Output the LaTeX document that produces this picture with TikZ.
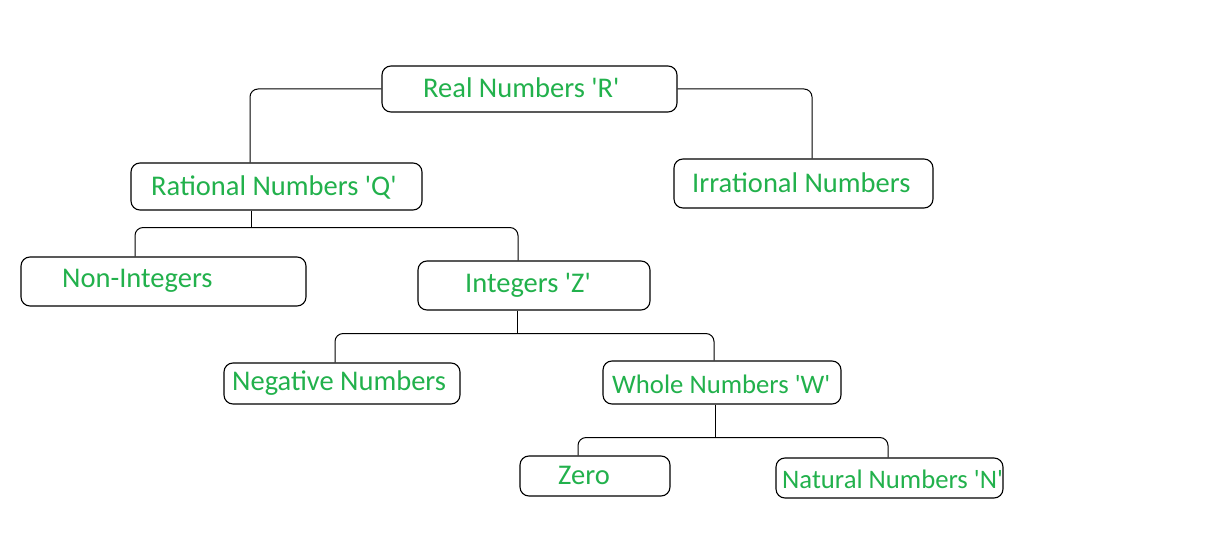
\documentclass[tikz,border=0pt]{standalone}
\usepackage{fontspec}
\setmainfont{Carlito}
\definecolor{pgreen}{RGB}{34,177,76}
\newcommand{\sq}{\textquotesingle}
\begin{document}
\begin{tikzpicture}[x=1pt,y=-1pt,
  box/.style={draw=black, line width=1.1pt, rounded corners=9pt, inner sep=0pt},
  txt/.style={text=pgreen, anchor=west, inner sep=0pt, font=\fontsize{28.5}{32}\selectfont},
  smalltxt/.style={txt, font=\fontsize{26.7}{30}\selectfont},
  conn/.style={draw=black, line width=1pt, rounded corners=8pt}]
\useasboundingbox[fill=white] (0,0) rectangle (1210,553);
% boxes
\node[box, minimum width=295pt, minimum height=46pt] (r) at (529.5,89) {};
\node[box, minimum width=291pt, minimum height=47pt] (q) at (276.5,186.5) {};
\node[box, minimum width=259pt, minimum height=49pt] (i) at (803.5,183.5) {};
\node[box, minimum width=285pt, minimum height=49pt] (ni) at (163.5,281.5) {};
\node[box, minimum width=232pt, minimum height=49pt] (z) at (534,285.5) {};
\node[box, minimum width=236pt, minimum height=41pt] (neg) at (342,383.5) {};
\node[box, minimum width=238pt, minimum height=43pt] (w) at (722,382.5) {};
\node[box, minimum width=150pt, minimum height=40pt] (zero) at (595,476) {};
\node[box, minimum width=227pt, minimum height=40pt] (n) at (889.5,478) {};
% texts
\node[txt] (tr) at (423,88) {Real Numbers \sq R\sq};
\node[txt] (tq) at (151,187) {Rational Numbers \sq Q\sq};
\node[txt] (ti) at (692,183) {Irrational Numbers};
\node[txt] (tni) at (62,281) {Non-Integers};
\node[txt] (tz) at (465,285) {Integers \sq Z\sq};
\node[txt] (tneg) at (232,383) {Negative Numbers};
\node[smalltxt] (tw) at (612,384) {Whole Numbers \sq W\sq};
\node[txt] (tzero) at (558,475) {Zero};
\node[smalltxt] (tn) at (782,479) {Natural Numbers \sq N\sq};
% connectors
\draw[conn] (r.west) -| ([xshift=-26.5pt]q.north);
\draw[conn] (r.east) -| ([xshift=8.5pt]i.north);
\coordinate (qb) at ([xshift=-25.5pt,yshift=-17pt]q.south);
\draw[conn] ([xshift=-25.5pt]q.south) -- (qb);
\draw[conn] ([xshift=-28.5pt]ni.north) |- (qb) -| ([xshift=-16pt]z.north);
\coordinate (zb) at ([xshift=-17pt,yshift=-23pt]z.south);
\draw[conn] ([xshift=-17pt]z.south) -- (zb);
\draw[conn] ([xshift=-7pt]neg.north) |- (zb) -| ([xshift=-8pt]w.north);
\coordinate (wb) at ([xshift=-7pt,yshift=-33pt]w.south);
\draw[conn] ([xshift=-7pt]w.south) -- (wb);
\draw[conn] ([xshift=-17pt]zero.north) |- (wb) -| ([xshift=-1.5pt]n.north);
\end{tikzpicture}
\end{document}
